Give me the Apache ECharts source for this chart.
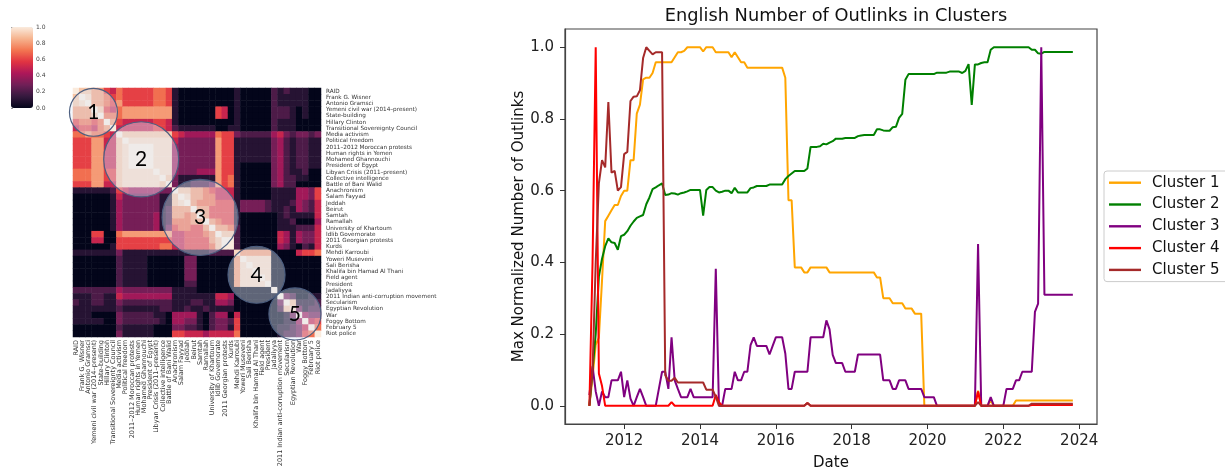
<!DOCTYPE html>
<html>
<head>
<meta charset="utf-8">
<style>html,body{margin:0;padding:0;background:#fff;overflow:hidden}#c{width:1225px;height:476px}</style>
<script src="https://cdn.jsdelivr.net/npm/echarts@6/dist/echarts.min.js"></script>
</head>
<body>
<div id="c"></div>
<script>
const topicLabels = ["RAID","Frank G. Wisner","Antonio Gramsci","Yemeni civil war (2014–present)","State-building","Hillary Clinton","Transitional Sovereignty Council","Media activism","Political freedom","2011–2012 Moroccan protests","Human rights in Yemen","Mohamed Ghannouchi","President of Egypt","Libyan Crisis (2011–present)","Collective intelligence","Battle of Bani Walid","Anachronism","Salam Fayyad","Jeddah","Beirut","Samtah","Ramallah","University of Khartoum","Idlib Governorate","2011 Georgian protests","Kurds","Mehdi Karroubi","Yoweri Museveni","Sali Berisha","Khalifa bin Hamad Al Thani","Field agent","President","Jadaliyya","2011 Indian anti-corruption movement","Secularism","Egyptian Revolution","War","Foggy Bottom","February 5","Riot police"];

// Lower triangle of the similarity matrix: digits are tenths, n = .95, a = 1.
const similarityRows = [
"a","9a","9na","888a","8889a","67767a","566578a",
"7787765 a",
"6668855 9a",
"6668855 9na",
"6668855 9naa",
"6668855 9naaa",
"6668855 9naaaa",
"7778866 9nnnnna",
"7778866 9nnnnnna",
"6668855 9nnnnnn9a",
"1111112 654444433 a",
"0000001 533333311 9a",
"0000001 433333311 9na",
"0000001 433333312 888a",
"0000001 433333412 8878a",
"0000001 433333412 77788a",
"0000001 433333413 677668a",
"0006600 788888888 55666 78a",
"0005500 666666666 556666 89a",
"0000001 666666677 5566667 9aa",
"1111111 311111111 1111112222 n",
"0000000 211110000 0033000000 8a",
"0000000 211110000 0033000000 8na",
"0000000 211110000 0033000000 8nna",
"0000000 211110000 0033000000 8nnna",
"0000000 211110000 0022000000 8nnnna",
"2222222 433333333 1111000000 000000a",
"1112211 544444444 1111111554 0000000 a",
"2112211 322222222 1112211443 0000000 3a",
"1111111 211111122 1121121111 0000000 29n",
"1110000 322222110 4444102440 5000000 013a",
"1111100 322222210 4433102332 6000000 0114a",
"0000000 211111000 3322102331 6000000 11235a",
"0000000 311111000 6655545555 7000000 122367a"
];
const rocketStops = ["#03051a","#35193e","#701f57","#ad1759","#e13342","#f37651","#f6b48f","#faebdd"];

const clusterCircles = [["1",3.3,3.9,3.87],["2",11,11.45,6.05],["3",20.5,20.8,6.13],["4",29.6,30,4.6],["5",35.8,36.3,4.2]];

const clusterNames = ["Cluster 1","Cluster 2","Cluster 3","Cluster 4","Cluster 5"];
const clusterColors = ["#ffa500","#008000","#800080","#ff0000","#a52a2a"];
const firstYear = 2011, firstMonth = 1, monthCount = 154;
const xTickYears = [2012,2014,2016,2018,2020,2022,2024];
const yTicks = [0,0.2,0.4,0.6,0.8,1];

const cluster1 = [
0,.08,.17,.19,.35,.515,.53,.545,.56,.56,
.585,.6,.6,.685,.685,.815,.84,.91,.915,.915,
.928,.958,.958,.958,.958,.958,.958,.972,.986,.986,
.99,1,1,1,1,1,.988,1,1,1,
.986,.986,.986,.986,.986,.972,.986,.972,.958,.958,
.943,.943,.943,.943,.943,.943,.943,.943,.943,.943,
.943,.943,.915,.573,.573,.386,.386,.386,.372,.372,
.386,.386,.386,.386,.386,.386,.372,.372,.372,.372,
.372,.372,.372,.372,.372,.372,.372,.372,.372,.372,
.372,.358,.358,.3,.3,.3,.286,.286,.286,.286,
.271,.271,.271,.257,.257,.257,0,0,0,0,
0,0,0,0,0,0,0,0,0,0,
0,0,0,.042,0,0,0,.015,0,0,
0,0,0,0,0,.015,.015,.015,.015,.015,
.015,.015,.015,.015,.015,.015,.015,.015,.015,.015,
.015,.015,.015,.015];
const cluster2 = [
0,.1,.2,.36,.41,.445,.467,.456,.454,.435,
.473,.477,.487,.502,.514,.524,.528,.532,.562,.581,
.604,.609,.615,.62,.588,.589,.593,.592,.589,.593,
.595,.598,.602,.602,.602,.602,.53,.602,.61,.61,
.6,.595,.597,.6,.6,.593,.608,.595,.595,.595,
.595,.607,.609,.613,.613,.613,.613,.617,.617,.617,
.617,.617,.632,.641,.648,.655,.655,.655,.655,.662,
.722,.722,.722,.724,.731,.729,.734,.738,.745,.745,
.745,.747,.747,.747,.747,.752,.754,.755,.755,.755,
.755,.771,.771,.768,.767,.767,.777,.778,.803,.814,
.909,.925,.925,.925,.925,.925,.925,.925,.925,.925,
.929,.929,.929,.929,.932,.932,.932,.932,.928,.934,
.953,.839,.952,.952,.956,.958,.958,.993,1,1,
1,1,1,1,1,1,1,1,1,1,
.993,.993,.983,.982,.987,.987,.987,.987,.987,.987,
.987,.987,.987,.987];
const cluster3 = [
.03,.11,.04,0,.04,.024,.024,.071,.071,.071,
.095,.024,.071,.02,0,.024,.047,.024,0,0,
0,0,.048,.095,.095,.047,.191,.071,.047,.024,
.024,.024,.047,.024,.024,.024,.024,.024,.024,.024,
.382,0,0,.047,.047,.047,.095,.071,.071,.095,
.095,.169,.191,.167,.167,.167,.167,.143,.167,.191,
.191,.191,.146,.047,.047,.095,.095,.095,.095,.095,
.191,.191,.191,.191,.191,.238,.213,.142,.119,.119,
.119,.095,.095,.095,.095,.143,.143,.143,.143,.143,
.143,.143,.143,.071,.071,.071,.047,.047,.071,.071,
.071,.047,.047,.047,.047,.047,.024,.024,.024,.024,
0,0,0,0,0,0,0,0,0,0,
0,0,0,.451,0,0,0,.024,0,0,
0,0,.047,.047,.047,.071,.071,.095,.095,.095,
.095,.262,.285,1,.31,.31,.31,.31,.31,.31,
.31,.31,.31,.31];
const cluster4 = [
0,.4,1,.09,.055,0,0,0,0,0,
0,0,0,0,0,0,0,0,0,0,
0,0,0,0,0,0,.01,0,0,0,
0,0,0,0,0,0,0,0,0,0,
.03,.01,0,0,0,0,0,0,0,0,
0,0,0,0,0,0,0,0,0,0,
0,0,0,0,0,0,0,0,0,.008,
0,0,0,0,0,0,0,0,0,0,
0,0,0,0,0,0,0,0,0,0,
0,0,0,0,0,0,0,0,0,0,
0,0,0,0,0,0,0,0,0,0,
0,0,0,0,0,0,0,0,0,0,
0,0,0,.04,0,0,0,0,0,0,
0,0,0,0,0,0,0,0,0,0,
.002,.002,.002,.002,.002,.002,.002,.002,.002,.002,
.002,.002,.002,.002];
const cluster5 = [
0,.1,.4,.62,.685,.665,.847,.65,.655,.6,
.61,.702,.708,.85,.862,.863,.88,.97,1,.99,
.98,.986,.986,.986,.085,.07,.07,.078,.065,.065,
.065,.065,.065,.065,.065,.065,.065,.045,.045,.045,
.025,0,0,0,0,0,0,0,0,0,
0,0,0,0,0,0,0,0,0,0,
0,0,0,0,0,0,0,0,0,.008,
0,0,0,0,0,0,0,0,0,0,
0,0,0,0,0,0,0,0,0,0,
0,0,0,0,0,0,0,0,0,0,
0,0,0,0,0,0,0,0,0,0,
0,0,0,0,0,0,0,0,0,0,
0,0,0,.01,0,0,0,0,0,0,
0,0,0,0,0,0,0,0,0,0,
.006,.006,.006,.006,.006,.006,.006,.006,.006,.006,
.006,.006,.006,.006];
const clusterValues = [cluster1,cluster2,cluster3,cluster4,cluster5];

const FONT = "DejaVu Sans";
const months = [];
for (let i = 0; i < monthCount; i++) months.push(firstYear + (firstMonth + i) / 12);

const cellLevel = ch => ch === 'a' ? 1 : ch === 'n' ? 0.95 : Number(ch) / 10;
const heatCells = [];
similarityRows.forEach((row, r) => {
  row.replace(/ /g, '').split('').forEach((ch, j) => {
    const v = cellLevel(ch);
    heatCells.push([j, r, v]);
    if (j !== r) heatCells.push([r, j, v]);
  });
});

const chart = echarts.init(document.getElementById('c'), null, {renderer:'canvas'});
const lineSeries = clusterNames.map((name, k) => ({
  name, type:'line', xAxisIndex:3, yAxisIndex:3, showSymbol:false, symbol:'none', silent:true,
  lineStyle:{width:2, color:clusterColors[k]}, itemStyle:{color:clusterColors[k]},
  data: clusterValues[k].map((v, i) => [months[i], v])
}));

chart.setOption({
  animation:false,
  backgroundColor:'#fff',
  textStyle:{fontFamily:FONT},
  title:{text:'English Number of Outlinks in Clusters', left:831, top:2, textAlign:'center',
    textStyle:{fontFamily:FONT,fontSize:17.8,fontWeight:'normal',color:'#111'}},
  legend:{data:clusterNames, orient:'vertical', left:1104, top:171, padding:[4.2,30,4.2,5],
    icon:'rect', itemWidth:32, itemHeight:2.4, itemGap:6.8, borderColor:'#ccc', borderWidth:1, borderRadius:3,
    textStyle:{fontFamily:FONT,fontSize:15,color:'#111',padding:[0,0,0,6]}},
  visualMap:{type:'continuous', seriesIndex:0, min:0, max:1, left:11, top:27, itemWidth:22, itemHeight:81,
    padding:0, text:null, showLabel:false, calculable:false, realtime:false, hoverLink:false,
    inRange:{color:rocketStops}, textStyle:{fontSize:0}},
  grid:[
    {left:73, top:88, width:248, height:249},
    {left:73, top:88, width:248, height:249},
    {left:11, top:27, width:22, height:81},
    {left:565, top:29, width:532, height:397, show:true, borderColor:'#444', borderWidth:1.2, backgroundColor:'transparent'}
  ],
  xAxis:[
    {gridIndex:0, type:'category', data:topicLabels, position:'bottom',
      axisLine:{show:false}, axisTick:{length:2,alignWithLabel:true,lineStyle:{color:'#444',width:.6}},
      axisLabel:{interval:0, rotate:90, fontSize:6.5, margin:3, color:'#333', fontFamily:FONT}, splitLine:{show:false}},
    {gridIndex:1, type:'value', min:0, max:40, show:false},
    {gridIndex:2, type:'value', min:0, max:1, show:false},
    {gridIndex:3, type:'value', min:2010.44, max:2024.47, splitLine:{show:false},
      name:'Date', nameLocation:'middle', nameGap:32, nameTextStyle:{fontFamily:FONT,fontSize:15,color:'#111'},
      axisLine:{show:true,onZero:false,lineStyle:{color:'#444',width:1.2}},
      axisTick:{show:true,length:5,lineStyle:{color:'#333',width:1},customValues:xTickYears},
      axisLabel:{fontSize:15,color:'#222',margin:10,fontFamily:FONT,
        customValues:xTickYears, formatter:v=>String(v)}}
  ],
  yAxis:[
    {gridIndex:0, type:'category', data:topicLabels, inverse:true, position:'right',
      axisLine:{show:false}, axisTick:{length:2,alignWithLabel:true,lineStyle:{color:'#444',width:.6}},
      axisLabel:{interval:0, fontSize:5.7, margin:5, color:'#333', fontFamily:FONT}, splitLine:{show:false}},
    {gridIndex:1, type:'value', min:0, max:40, inverse:true, show:false},
    {gridIndex:2, type:'value', min:0, max:1, position:'right', interval:0.2,
      axisLine:{show:false}, splitLine:{show:false},
      axisTick:{show:true,length:2,lineStyle:{color:'#555',width:.6}},
      axisLabel:{fontSize:6,margin:3,color:'#444',fontFamily:FONT,formatter:v=>v.toFixed(1)}},
    {gridIndex:3, type:'value', min:-0.0508, max:1.0508, splitLine:{show:false},
      name:'Max Normalized Number of Outlinks', nameLocation:'middle', nameGap:38, nameRotate:90,
      nameTextStyle:{fontFamily:FONT,fontSize:15,color:'#111'},
      axisLine:{show:true,onZero:false,lineStyle:{color:'#444',width:1.2}},
      axisTick:{show:true,length:5,lineStyle:{color:'#333',width:1},customValues:yTicks},
      axisLabel:{fontSize:15,color:'#222',margin:11,fontFamily:FONT,
        customValues:yTicks, formatter:v=>v.toFixed(1)}}
  ],
  series:[
    {type:'heatmap', xAxisIndex:0, yAxisIndex:0, data:heatCells, silent:true, progressive:0,
      emphasis:{disabled:true}, itemStyle:{borderWidth:0}},
    {type:'custom', xAxisIndex:1, yAxisIndex:1, silent:true, clip:false, z:5,
      data:clusterCircles.map(c=>[c[1],c[2],c[3],c[0]]),
      renderItem:(params, api)=>{
        const p = api.coord([api.value(0), api.value(1)]);
        const r = api.size([api.value(2), api.value(2)])[0];
        return {type:'group', children:[
          {type:'circle', shape:{cx:p[0],cy:p[1],r:r},
            style:{fill:'rgba(225,235,250,0.42)', stroke:'#4d5f80', lineWidth:1.2}},
          {type:'text', style:{text:String(api.value(3)), x:p[0], y:p[1], align:'center', verticalAlign:'middle',
            fontFamily:'Lato', fontSize:21, fill:'#000'}}
        ]};
      }},
    {type:'scatter', xAxisIndex:2, yAxisIndex:2, data:[], silent:true},
    ...lineSeries
  ]
});
</script>
</body>
</html>
